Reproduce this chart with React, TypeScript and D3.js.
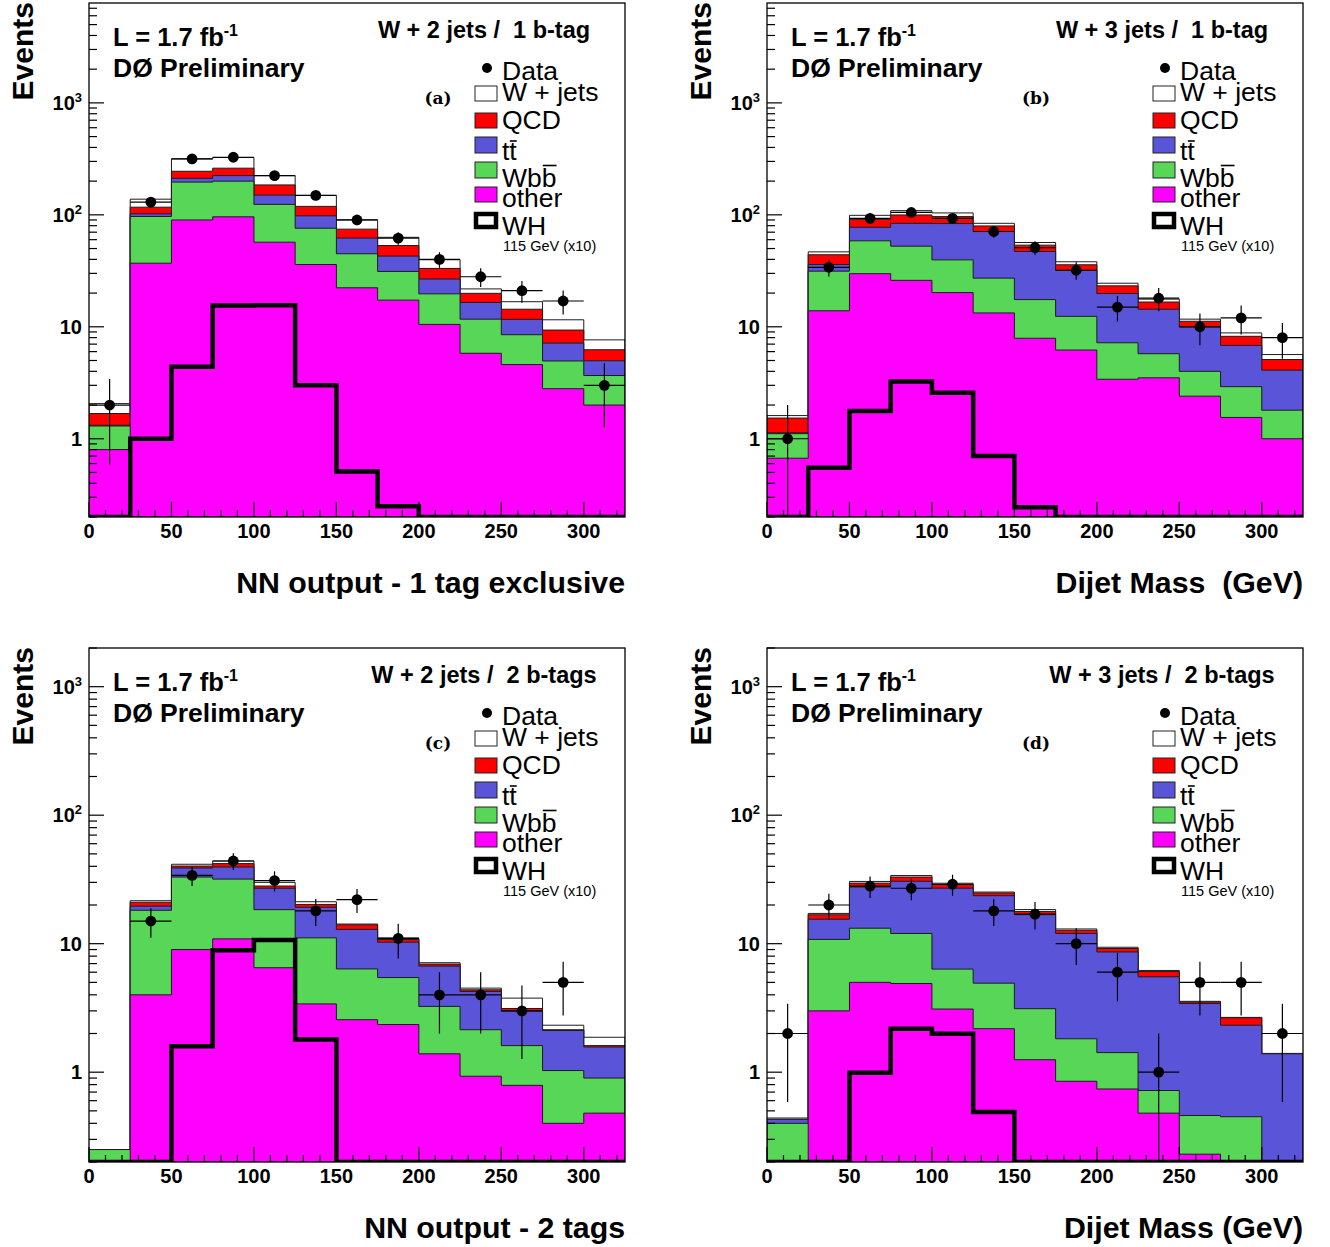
import React from 'react';
import * as d3 from 'd3';

// ---------- shared axis data ----------
const binEdges = [0, 25, 50, 75, 100, 125, 150, 175, 200, 225, 250, 275, 300, 325];
const xTickLabels = [0, 50, 100, 150, 200, 250, 300];
const yTickLabels = [1, 10, 100, 1000];
const stackKeys = ['other', 'wbb', 'tt', 'qcd', 'wjets'];
const legendLabels = ['Data', 'W + jets', 'QCD', 'tt', 'Wbb', 'other', 'WH'];

// ---------- panel (a): W + 2 jets / 1 b-tag ----------
const aOther = [0.8, 37, 90, 96, 57, 36, 22.3, 17.3, 10.5, 5.8, 4.6, 2.8, 2.0];
const aWbb = [0.5, 59.6, 106, 104, 67, 40, 22.6, 13.9, 9.2, 5.9, 3.9, 2.15, 1.67];
const aTt = [0.02, 5.4, 16, 24, 26, 22, 17.1, 11.6, 7.0, 4.8, 3.15, 2.2, 1.3];
const aQcd = [0.36, 15, 33, 37, 35, 21, 12.5, 10.4, 6.5, 3.4, 2.7, 2.2, 1.27];
const aWjets = [0.38, 21, 71, 64, 39, 30, 15.5, 9.8, 6.5, 1.9, 2.4, 2.2, 1.4];
const aData = [2, 130, 316, 327, 224, 149, 90, 62, 40, 28, 21, 17, 3];
const aWH = [0, 1.0, 4.4, 15.5, 15.6, 3.0, 0.51, 0.25, 0, 0, 0, 0, 0];

// ---------- panel (b): W + 3 jets / 1 b-tag ----------
const bOther = [0.67, 13.9, 29.8, 26, 20.2, 13.3, 7.9, 6.2, 3.4, 3.5, 2.4, 1.55, 1.0];
const bWbb = [0.44, 17.5, 28.8, 26.5, 19.4, 13.9, 9.6, 6.2, 3.8, 2.25, 1.6, 1.37, 0.8];
const bTt = [0.02, 4.6, 18.8, 31.5, 44, 43.7, 29.6, 19.5, 12.6, 8.6, 6.0, 3.9, 2.3];
const bQcd = [0.4, 8, 13.8, 15.8, 12.8, 8.7, 6.5, 3.9, 3.4, 2.3, 1.2, 1.4, 1.0];
const bWjets = [0.08, 2.7, 7.8, 9.2, 7.6, 4.4, 3.0, 2.3, 1.3, 1.0, 0.5, 0.6, 0.55];
const bData = [1, 34, 93, 105, 93, 71, 51, 32, 15, 18, 10, 12, 8];
const bWH = [0, 0.55, 1.77, 3.24, 2.58, 0.7, 0.245, 0, 0, 0, 0, 0, 0];

// ---------- panel (c): W + 2 jets / 2 b-tags ----------
const cOther = [0, 4.0, 9.0, 10.9, 6.5, 3.4, 2.56, 2.35, 1.39, 0.93, 0.79, 0.4, 0.48];
const cWbb = [0.25, 14.2, 24, 20.9, 11.9, 7.7, 3.8, 3.1, 1.86, 1.21, 0.82, 0.63, 0.42];
const cTt = [0, 1.4, 5.8, 7.7, 8.6, 8.1, 6.56, 4.83, 3.44, 2.11, 1.38, 1.08, 0.67];
const cQcd = [0, 1.4, 1.4, 2.5, 1.1, 1.0, 1.1, 0.5, 0.25, 0.13, 0.14, 0.03, 0.04];
const cWjets = [0, 0.6, 1.3, 2.0, 1.9, 1.0, 0.2, 0.3, 0.17, 0.13, 0.64, 0.18, 0.26];
const cData = [0, 15, 34, 44, 31, 18, 22, 11, 4, 4, 3, 5, 0];
const cWH = [0, 0, 1.59, 8.9, 10.7, 1.8, 0, 0, 0, 0, 0, 0, 0];

// ---------- panel (d): W + 3 jets / 2 b-tags ----------
const dOther = [0, 3.0, 5.0, 4.9, 3.1, 2.18, 1.25, 0.85, 0.74, 0.48, 0.23, 0, 0];
const dWbb = [0.4, 7.8, 8.2, 7.1, 3.24, 2.75, 1.87, 0.97, 0.68, 0.24, 0.23, 0.45, 0];
const dTt = [0.03, 4.7, 14.4, 18.6, 20.7, 18.7, 13.7, 10.2, 7.2, 4.8, 2.96, 1.87, 1.39];
const dQcd = [0, 1.3, 2.0, 2.4, 1.8, 1.2, 1.0, 0.7, 0.55, 0.55, 0.1, 0.33, 0];
const dWjets = [0.01, 0.4, 0.9, 0.9, 0.7, 0.4, 0.6, 0.3, 0.21, 0.12, 0.04, 0.02, 0.01];
const dData = [2, 20, 28, 27, 29, 18, 17, 10, 6, 1, 5, 5, 2];
const dWH = [0, 0, 0.99, 2.18, 1.99, 0.49, 0, 0, 0, 0, 0, 0, 0];

const colors: Record<string, string> = {
  other: '#ff00ff',
  wbb: '#58d658',
  tt: '#5a55d8',
  qcd: '#ff0000',
  wjets: '#ffffff',
};

const panels = [
  { id: 'a', L: 89, T: 3, ymax: 7800, labelDx: 349, title: 'W + 2 jets /  1 b-tag', xTitle: 'NN output - 1 tag exclusive',
    other: aOther, wbb: aWbb, tt: aTt, qcd: aQcd, wjets: aWjets, data: aData, wh: aWH },
  { id: 'b', L: 767, T: 3, ymax: 7800, labelDx: 269, title: 'W + 3 jets /  1 b-tag', xTitle: 'Dijet Mass  (GeV)',
    other: bOther, wbb: bWbb, tt: bTt, qcd: bQcd, wjets: bWjets, data: bData, wh: bWH },
  { id: 'c', L: 89, T: 648, ymax: 2000, labelDx: 349, title: 'W + 2 jets /  2 b-tags', xTitle: 'NN output - 2 tags',
    other: cOther, wbb: cWbb, tt: cTt, qcd: cQcd, wjets: cWjets, data: cData, wh: cWH },
  { id: 'd', L: 767, T: 648, ymax: 2000, labelDx: 269, title: 'W + 3 jets /  2 b-tags', xTitle: 'Dijet Mass (GeV)',
    other: dOther, wbb: dWbb, tt: dTt, qcd: dQcd, wjets: dWjets, data: dData, wh: dWH },
];

const PW = 536;
const PH = 514;
const SANS = '"Liberation Sans", Arial, Helvetica, sans-serif';

function Panel({ p }: { p: any }) {
  const { L, T, ymax, id } = p;
  const B = T + PH;
  const R = L + PW;
  const x = d3.scaleLinear().domain([0, 325]).range([L, R]);
  const y = d3.scaleLog().domain([0.2, ymax]).range([B, T]).clamp(true);
  const yv = (v: number) => y(Math.max(v, 0.05));

  const rows = p.other.map((_: number, i: number) => ({
    other: p.other[i], wbb: p.wbb[i], tt: p.tt[i], qcd: p.qcd[i], wjets: p.wjets[i],
  }));
  const stacked = d3.stack<any>().keys(stackKeys)(rows);
  const nb = rows.length;

  const area = d3
    .area<{ x: number; v: number }>()
    .x((d) => x(d.x))
    .y0(B)
    .y1((d) => yv(d.v))
    .curve(d3.curveStepAfter);
  const line = d3
    .line<{ x: number; v: number }>()
    .x((d) => x(d.x))
    .y((d) => yv(d.v))
    .curve(d3.curveStepAfter);

  const layerPaths = stacked
    .map((s, k) => {
      const pts = binEdges.map((e, i) => ({ x: e, v: s[Math.min(i, nb - 1)][1] }));
      return { key: stackKeys[k], d: area(pts) as string };
    })
    .reverse();

  const whPts = binEdges.map((e, i) => ({ x: e, v: p.wh[Math.min(i, nb - 1)] }));

  // y ticks
  const yTicks: { v: number; major: boolean }[] = [];
  for (let e = -1; e <= 4; e++) {
    for (let m = 1; m <= 9; m++) {
      const v = m * Math.pow(10, e);
      if (v >= 0.2 - 1e-9 && v <= ymax + 1e-9) yTicks.push({ v, major: m === 1 });
    }
  }
  const xTicks = d3.range(0, 321, 10);

  const clipId = `clip-${id}`;
  const lx = L + 386; // legend box left
  const tx = L + 413; // legend text x
  const legFont = 26.5;
  const ttBase = T + 157;
  const wbbBase = T + 184;

  return (
    <g>
      <defs>
        <clipPath id={clipId}>
          <rect x={L} y={T} width={PW} height={PH} />
        </clipPath>
      </defs>
      <g clipPath={`url(#${clipId})`}>
        {layerPaths.map((lp) => (
          <path key={lp.key} d={lp.d} fill={colors[lp.key]} stroke="#1c1c1c" strokeWidth={1} />
        ))}
        <path d={line(whPts) as string} fill="none" stroke="#000" strokeWidth={4.5} />
      </g>
      {/* data points */}
      {p.data.map((n: number, i: number) => {
        if (n <= 0) return null;
        const cx = x((binEdges[i] + binEdges[i + 1]) / 2);
        const err = Math.sqrt(n);
        return (
          <g key={i}>
            <line x1={x(binEdges[i])} x2={x(binEdges[i + 1])} y1={yv(n)} y2={yv(n)} stroke="#000" strokeWidth={1.2} />
            <line x1={cx} x2={cx} y1={yv(n - err)} y2={yv(n + err)} stroke="#000" strokeWidth={1.2} />
            <circle cx={cx} cy={yv(n)} r={5.4} fill="#000" />
          </g>
        );
      })}
      {/* ticks */}
      {yTicks.map((t, i) => (
        <line key={'yt' + i} x1={L} x2={L + (t.major ? 15 : 8)} y1={y(t.v)} y2={y(t.v)} stroke="#000" strokeWidth={1.2} />
      ))}
      {xTicks.map((t) => (
        <line key={'xt' + t} x1={x(t)} x2={x(t)} y1={B} y2={B - (t % 50 === 0 ? 15 : 7)} stroke="#000" strokeWidth={1.2} />
      ))}
      <rect x={L} y={T} width={PW} height={PH} fill="none" stroke="#000" strokeWidth={1.3} />
      {/* tick labels */}
      {xTickLabels.map((t) => (
        <text key={'xl' + t} x={x(t)} y={B + 21} textAnchor="middle" fontFamily={SANS} fontWeight="bold" fontSize={20}>
          {t}
        </text>
      ))}
      {yTickLabels.map((v) => (
        <text key={'yl' + v} x={L - 7} y={y(v) + 7} textAnchor="end" fontFamily={SANS} fontWeight="bold" fontSize={20}>
          {v < 100 ? String(v) : '10'}
          {v >= 100 ? (
            <tspan fontSize={13} dy={-8}>
              {String(Math.round(Math.log10(v)))}
            </tspan>
          ) : null}
        </text>
      ))}
      {/* axis titles */}
      <text x={R} y={B + 76} textAnchor="end" fontFamily={SANS} fontWeight="bold" fontSize={30.3} style={{ whiteSpace: 'pre' }}>
        {p.xTitle}
      </text>
      <text transform={`translate(${L - 56},${T - 1}) rotate(-90)`} textAnchor="end" fontFamily={SANS} fontWeight="bold" fontSize={30}>
        Events
      </text>
      {/* header texts */}
      <text x={L + 24} y={T + 43} fontFamily={SANS} fontWeight="bold" fontSize={25.5}>
        L = 1.7 fb
        <tspan fontSize={16} dy={-10}>-1</tspan>
      </text>
      <text x={L + 24} y={T + 74} fontFamily={SANS} fontWeight="bold" fontSize={26.5}>
        DØ Preliminary
      </text>
      <text x={L + 395} y={T + 35} textAnchor="middle" fontFamily={SANS} fontWeight="bold" fontSize={23.5} style={{ whiteSpace: 'pre' }}>
        {p.title}
      </text>
      <text x={L + p.labelDx} y={T + 101} textAnchor="middle" fontFamily='"DejaVu Serif", serif' fontWeight="bold" fontSize={17}>
        ({id})
      </text>
      {/* legend */}
      <circle cx={L + 398} cy={T + 65} r={5} fill="#000" />
      <rect x={lx} y={T + 83} width={22} height={15} fill={colors.wjets} stroke="#222" strokeWidth={1} />
      <rect x={lx} y={T + 110} width={22} height={15} fill={colors.qcd} stroke="#222" strokeWidth={1} />
      <rect x={lx} y={T + 134} width={22} height={16} fill={colors.tt} stroke="#222" strokeWidth={1} />
      <rect x={lx} y={T + 159} width={22} height={16} fill={colors.wbb} stroke="#222" strokeWidth={1} />
      <rect x={lx} y={T + 184} width={22} height={15} fill={colors.other} stroke="#222" strokeWidth={1} />
      <rect x={lx + 1} y={T + 211} width={20} height={13} fill="#fff" stroke="#000" strokeWidth={4.5} />
      <g fontFamily={SANS} fontSize={legFont}>
        <text x={tx} y={T + 77}>{legendLabels[0]}</text>
        <text x={tx} y={T + 98}>{legendLabels[1]}</text>
        <text x={tx} y={T + 126}>{legendLabels[2]}</text>
        <text x={tx} y={ttBase}>{legendLabels[3]}</text>
        <text x={tx} y={wbbBase}>{legendLabels[4]}</text>
        <text x={tx} y={T + 204}>{legendLabels[5]}</text>
        <text x={tx} y={T + 232}>{legendLabels[6]}</text>
        <text x={tx + 1} y={T + 248} fontSize={14.5}>115 GeV (x10)</text>
      </g>
      {/* overlines for t-bar and b-bar */}
      <line x1={tx + 0.278 * legFont + 0.5} x2={tx + 0.556 * legFont} y1={ttBase - 19} y2={ttBase - 19} stroke="#000" strokeWidth={1.6} />
      <line x1={tx + (0.944 + 0.556) * legFont + 1} x2={tx + (0.944 + 1.112) * legFont} y1={wbbBase - 21.5} y2={wbbBase - 21.5} stroke="#000" strokeWidth={1.6} />
    </g>
  );
}

export default function App() {
  return (
    <svg width={1330} height={1247} style={{ position: 'absolute', left: 0, top: 0, background: '#fff' }}>
      <rect x={0} y={0} width={1330} height={1247} fill="#fff" />
      {panels.map((p) => (
        <Panel key={p.id} p={p} />
      ))}
    </svg>
  );
}
